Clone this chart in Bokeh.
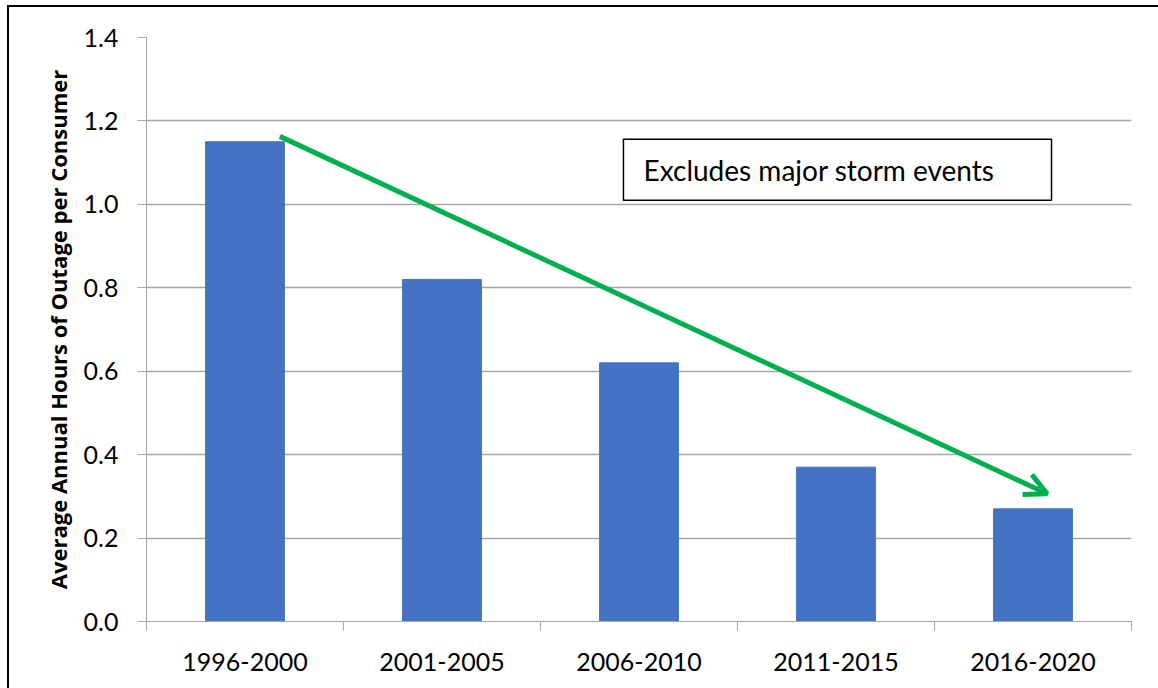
from bokeh.plotting import figure
from bokeh.models import (Range1d, FixedTicker, NumeralTickFormatter, Arrow, OpenHead,
                          BoxAnnotation, Label, InlineStyleSheet)
from bokeh.embed import file_html
from bokeh.resources import INLINE

# Average annual outage hours per consumer, by five-year period
periods = ["1996-2000", "2001-2005", "2006-2010", "2011-2015", "2016-2020"]
outage_hours = [1.15, 0.82, 0.62, 0.37, 0.27]
y_ticks = [0.0, 0.2, 0.4, 0.6, 0.8, 1.0, 1.2, 1.4]

FONT = "Lato"
BAR = "#4472C4"
GRID = "#A6A6A6"
GREEN = "#00B050"

centers = [i + 0.5 for i in range(len(periods))]
bounds = list(range(len(periods) + 1))

# thin black frame along the top and left edge of the page
frame_css = InlineStyleSheet(css="""
:host { position: relative; }
:host::after {
  content: ''; position: absolute; left: 7px; top: 5px; right: 0; bottom: 0;
  border-left: 2px solid #000; border-top: 2px solid #000; pointer-events: none;
}
""")

p = figure(width=1158, height=688, output_backend="svg", toolbar_location=None,
           x_range=Range1d(0, len(periods)), y_range=Range1d(0, 1.4),
           min_border_left=146, min_border_right=27, min_border_top=37, min_border_bottom=67,
           stylesheets=[frame_css])
p.outline_line_color = None
p.background_fill_color = "white"
p.border_fill_color = "white"

p.vbar(x=centers, top=outage_hours, width=0.4, fill_color=BAR, line_color=BAR)

# x axis: labels centred on bars, tick marks on category boundaries
xa = p.xaxis[0]
xa.ticker = FixedTicker(ticks=centers, minor_ticks=bounds)
xa.major_label_overrides = {c: lab for c, lab in zip(centers, periods)}
xa.major_tick_in = 0
xa.major_tick_out = 0
xa.minor_tick_in = 0
xa.minor_tick_out = 9
xa.minor_tick_line_color = GRID
xa.axis_line_color = GRID
xa.major_label_text_font = FONT
xa.major_label_text_font_size = "25px"
xa.major_label_text_color = "black"
xa.major_label_standoff = 22

ya = p.yaxis[0]
ya.ticker = FixedTicker(ticks=y_ticks, minor_ticks=[])
ya.formatter = NumeralTickFormatter(format="0.0")
ya.major_tick_in = 0
ya.major_tick_out = 9
ya.major_tick_line_color = GRID
ya.axis_line_color = GRID
ya.major_label_text_font = FONT
ya.major_label_text_font_size = "25px"
ya.major_label_text_color = "black"
ya.major_label_standoff = 19
ya.axis_label = "Average Annual Hours of Outage per Consumer"
ya.axis_label_text_font = "Open Sans"
ya.axis_label_text_font_style = "bold"
ya.axis_label_text_font_size = "22px"
ya.axis_label_text_color = "black"
ya.axis_label_standoff = 8

p.xgrid.visible = False
p.ygrid.ticker = FixedTicker(ticks=y_ticks, minor_ticks=[])
p.ygrid.grid_line_color = GRID
p.ygrid.grid_line_width = 1.3

# note box
p.add_layout(BoxAnnotation(left=2.421, right=4.594, bottom=1.010, top=1.156,
                           fill_color="white", fill_alpha=1.0,
                           line_color="black", line_alpha=1.0, line_width=1.5,
                           level="annotation"))
p.add_layout(Label(x=2.523, y=1.083, text="Excludes major storm events",
                   text_baseline="middle", text_font=FONT, text_font_size="28px",
                   text_color="black"))

# downward trend arrow
p.add_layout(Arrow(x_start=0.677, y_start=1.163, x_end=4.572, y_end=0.306,
                   line_color=GREEN, line_width=5,
                   end=OpenHead(size=22, line_color=GREEN, line_width=5)))

open("out.html", "w").write(file_html(p, INLINE))
